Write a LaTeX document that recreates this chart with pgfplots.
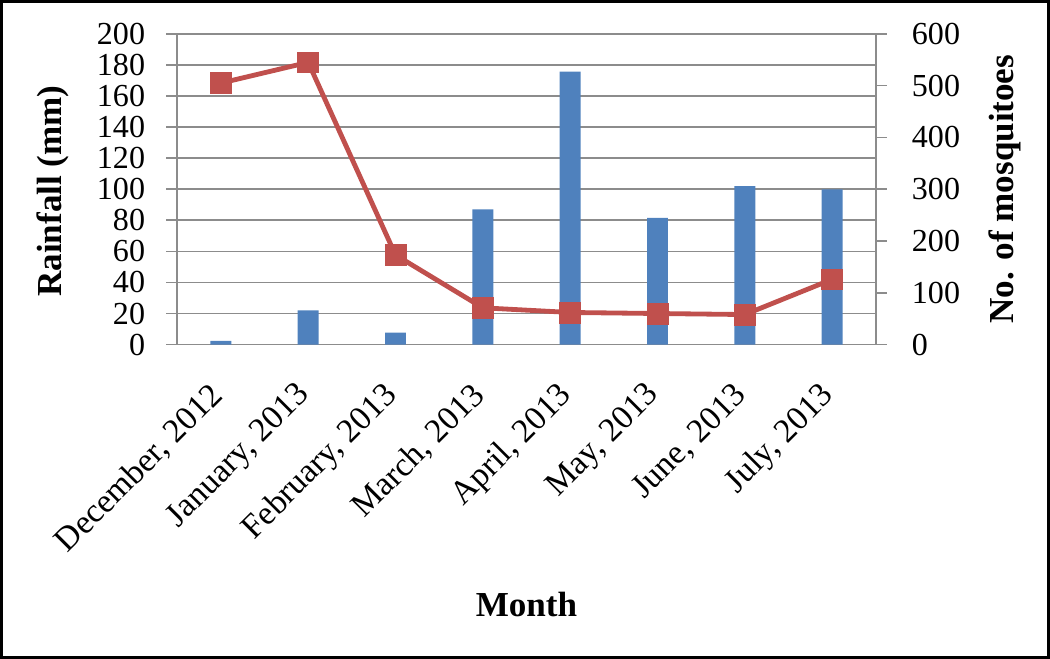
\documentclass[border=0pt]{standalone}
\usepackage{pgfplots}
\pgfplotsset{compat=1.18}
\usepackage{fontspec}
\setmainfont{Liberation Serif}
\definecolor{barblue}{RGB}{79,129,189}
\definecolor{linered}{RGB}{192,80,77}
\definecolor{axgray}{RGB}{140,140,140}
\begin{document}
\begin{tikzpicture}
\pgfplotsset{
  every axis/.append style={
    scale only axis, width=348.5pt, height=155pt,
    at={(0,0)}, anchor=south west,
    xmin=-0.5, xmax=7.5,
    /pgf/number format/assume math mode=true,
    tick label style={font=\fontsize{16}{19}\selectfont},
    label style={font=\fontsize{17.5}{21}\selectfont\bfseries},
    axis line style={axgray, line width=0.8pt},
    tick style={axgray, line width=0.8pt},
    tick align=outside,
    major tick length=5.5pt,
  }
}
\begin{axis}[
  ymin=0, ymax=200, ytick={0,20,...,200},
  xtick={0,...,7},
  xticklabels={{December, 2012},{January, 2013},{February, 2013},{March, 2013},{April, 2013},{May, 2013},{June, 2013},{July, 2013}},
  x tick style={draw=none},
  xticklabel style={yshift=-15pt, xshift=1pt, rotate=45, anchor=east, font=\fontsize{16.8}{19}\selectfont},
  yticklabel style={xshift=-7pt},
  ymajorgrids, grid style={axgray, line width=0.8pt},
  axis x line*=bottom, axis y line*=left,
  xlabel={Month},
  xlabel style={at={(axis description cs:0.5,-0.835)}, anchor=center},
  ylabel={Rainfall (mm)},
  ylabel style={at={(axis description cs:-0.178,0.494)}, anchor=center},
]
\addplot[ybar, bar width=0.24, fill=barblue, draw=none] coordinates {
  (0,2.4) (1,22.1) (2,7.7) (3,87) (4,175.7) (5,81.6) (6,102) (7,99.9)
};
\end{axis}
\begin{axis}[
  ymin=0, ymax=600, ytick={0,100,...,600},
  axis y line*=right, hide x axis,
  yticklabel style={xshift=9pt},
  ylabel={No. of mosquitoes},
  ylabel style={at={(axis description cs:1.185,0.5)}, anchor=center},
]
\addplot[linered, line width=2.4pt, mark=square*, mark size=5.2pt,
  mark options={solid, fill=linered, draw=linered, line width=0.4pt}] coordinates {
  (0,505) (1,545) (2,173) (3,71) (4,62) (5,60) (6,58) (7,126)
};
\end{axis}
\draw[black, line width=1.3pt] (-87.75pt,-156pt) rectangle (434.75pt,171.25pt);
\end{tikzpicture}
\end{document}
